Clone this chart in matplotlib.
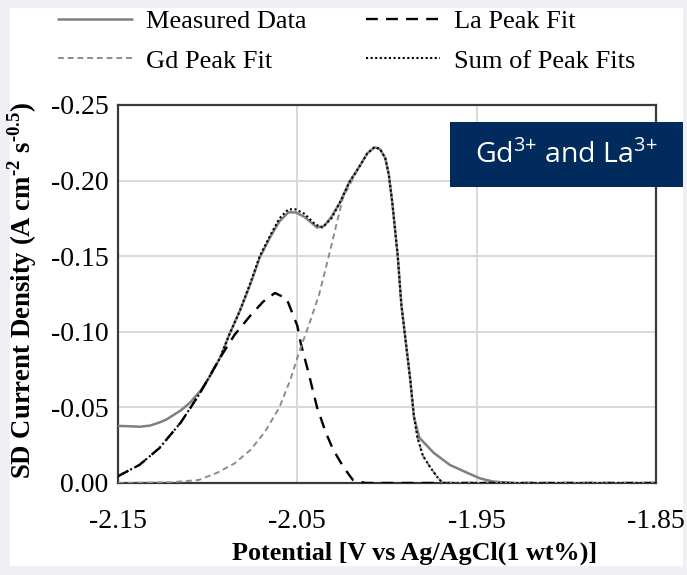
import matplotlib
matplotlib.use("Agg")
import matplotlib.pyplot as plt
from matplotlib.patches import Rectangle

# ---- data ----
measured_x = [-2.150, -2.143, -2.138, -2.132, -2.127, -2.123, -2.115, -2.110, -2.104, -2.099,
              -2.093, -2.088, -2.082, -2.076, -2.071, -2.065, -2.060, -2.055, -2.051, -2.046,
              -2.039, -2.035, -2.031, -2.026, -2.021, -2.015, -2.011, -2.007, -2.004, -2.001,
              -1.999, -1.997, -1.994, -1.992, -1.9905, -1.989, -1.987, -1.985, -1.982, -1.974,
              -1.965, -1.955, -1.948, -1.941, -1.931]
measured_y = [-0.0378, -0.0375, -0.0372, -0.038, -0.040, -0.042, -0.048, -0.053, -0.061, -0.070,
              -0.083, -0.098, -0.114, -0.132, -0.149, -0.163, -0.173, -0.179, -0.179, -0.176,
              -0.169, -0.170, -0.176, -0.186, -0.199, -0.210, -0.218, -0.222, -0.221, -0.215,
              -0.204, -0.185, -0.150, -0.118, -0.103, -0.088, -0.068, -0.044, -0.030, -0.020,
              -0.012, -0.0066, -0.003, -0.001, 0.0]

la_x = [-2.150, -2.138, -2.127, -2.115, -2.104, -2.093, -2.085, -2.076, -2.069,
        -2.0625, -2.056, -2.050, -2.048, -2.044, -2.039, -2.034, -2.030, -2.024, -2.019,
        -2.012, -1.85]
la_y = [-0.0045, -0.012, -0.023, -0.040, -0.060, -0.083, -0.098, -0.111, -0.120,
        -0.1257, -0.122, -0.104, -0.092, -0.074, -0.050, -0.033, -0.022, -0.010, -0.002,
        0.0, 0.0]

gd_x = [-2.150, -2.120, -2.105, -2.095, -2.085, -2.076, -2.068, -2.060, -2.054, -2.048,
        -2.044, -2.038, -2.033, -2.0245, -2.020, -2.015, -2.011, -2.007, -2.004, -2.001,
        -1.999, -1.997, -1.994, -1.992, -1.9905, -1.989, -1.987, -1.985, -1.983, -1.980,
        -1.976, -1.972, -1.969, -1.85]
gd_y = [0.0, -0.0005, -0.002, -0.0066, -0.013, -0.022, -0.034, -0.050, -0.068, -0.090,
        -0.103, -0.124, -0.1475, -0.189, -0.199, -0.210, -0.218, -0.222, -0.221, -0.215,
        -0.204, -0.185, -0.150, -0.118, -0.103, -0.088, -0.068, -0.044, -0.030, -0.018,
        -0.0106, -0.004, 0.0, 0.0]

sum_x = [-2.150, -2.138, -2.127, -2.115, -2.104, -2.093, -2.088, -2.082, -2.076, -2.071,
         -2.065, -2.060, -2.055, -2.051, -2.046, -2.040, -2.036, -2.031, -2.026, -2.021,
         -2.015, -2.011, -2.007, -2.004, -2.001, -1.999, -1.997, -1.994, -1.992, -1.9905,
         -1.989, -1.987, -1.985, -1.983, -1.980, -1.976, -1.972, -1.969, -1.85]
sum_y = [-0.0045, -0.012, -0.023, -0.040, -0.060, -0.083, -0.098, -0.114, -0.133, -0.150,
         -0.164, -0.175, -0.181, -0.181, -0.178, -0.171, -0.169, -0.175, -0.186, -0.199,
         -0.210, -0.218, -0.222, -0.221, -0.215, -0.204, -0.185, -0.150, -0.118, -0.103,
         -0.088, -0.068, -0.044, -0.030, -0.018, -0.0106, -0.004, 0.0, 0.0]

x_ticks = [-2.15, -2.05, -1.95, -1.85]
x_tick_labels = ["-2.15", "-2.05", "-1.95", "-1.85"]
y_ticks = [0.00, -0.05, -0.10, -0.15, -0.20, -0.25]
y_tick_labels = ["0.00", "-0.05", "-0.10", "-0.15", "-0.20", "-0.25"]

labels = ["Measured Data", "La Peak Fit", "Gd Peak Fit", "Sum of Peak Fits"]
badge_text = r"Gd$^{\mathregular{3{+}}}$ and La$^{\mathregular{3{+}}}$"
x_label = "Potential [V vs Ag/AgCl(1 wt%)]"
y_label = "SD Current Density (A cm$^{\\mathregular{\u20102}}$ s$^{\\mathregular{\u20100.5}}$)"

# ---- figure ----
W, H = 687, 575
fig = plt.figure(figsize=(W / 100, H / 100), dpi=100)
fig.patch.set_facecolor("#eef0f3")
fig.patches.append(Rectangle((10 / W, 1 - 566 / H), 673 / W, 558 / H,
                             transform=fig.transFigure, facecolor="white",
                             edgecolor="none", zorder=-10))

serif = ["Liberation Serif", "DejaVu Serif"]

ax = fig.add_axes([118 / W, 1 - 483 / H, 538 / W, 378 / H])
ax.set_facecolor("white")

l_meas, = ax.plot(measured_x, measured_y, color="#7f7f7f", lw=1.8, solid_capstyle="round",
                  zorder=3)
l_la, = ax.plot(la_x, la_y, color="black", lw=1.7, linestyle=(0, (5, 3.5)), zorder=4)
l_gd, = ax.plot(gd_x, gd_y, color="#8c8c8c", lw=1.4, linestyle=(0, (3, 2)), zorder=4)
l_sum, = ax.plot(sum_x, sum_y, color="black", lw=1.5, linestyle=(0, (1, 1.2)), zorder=5)

ax.set_xlim(-2.15, -1.85)
ax.set_ylim(0.0, -0.25)
ax.set_xticks(x_ticks)
ax.set_xticklabels(x_tick_labels, fontfamily=serif, fontsize=20)
ax.set_yticks(y_ticks)
ax.set_yticklabels(y_tick_labels, fontfamily=serif, fontsize=20)
ax.tick_params(axis="x", length=0, pad=19)
ax.tick_params(axis="y", length=0, pad=7)
ax.grid(True, color="#d9d9d9", lw=1.4)
ax.set_axisbelow(True)
for s in ax.spines.values():
    s.set_color("#3a3a3a")
    s.set_linewidth(1.6)

ax.set_xlabel(x_label, fontfamily=serif, fontsize=18.8, fontweight="bold")
ax.xaxis.set_label_coords((415 - 118) / 538, -(553 - 483) / 378)
ax.xaxis.label.set_va("center")
ax.set_ylabel(y_label, fontfamily=serif, fontsize=19.3, fontweight="bold")
ax.yaxis.set_label_coords(-(118 - 22) / 538, (483 - 290) / 378)
ax.yaxis.label.set_va("center")

fig.legend([l_meas, l_gd, l_la, l_sum],
           [labels[0], labels[2], labels[1], labels[3]],
           ncol=2, loc="upper left", bbox_to_anchor=(34 / W, 1 + 14 / H),
           frameon=False, prop={"family": serif, "size": 19},
           handlelength=2.8, handletextpad=0.55, columnspacing=2.25, labelspacing=0.6)

# badge
fig.patches.append(Rectangle((450 / W, 1 - 187 / H), 233 / W, 65 / H,
                             transform=fig.transFigure, facecolor="#002b5c",
                             edgecolor="none", zorder=10))
fig.text(566 / W, 1 - 155 / H, badge_text, color="white", fontsize=20.5,
         fontfamily=["Open Sans", "DejaVu Sans"], ha="center", va="center", zorder=11)

fig.savefig("out.png", dpi=100)
